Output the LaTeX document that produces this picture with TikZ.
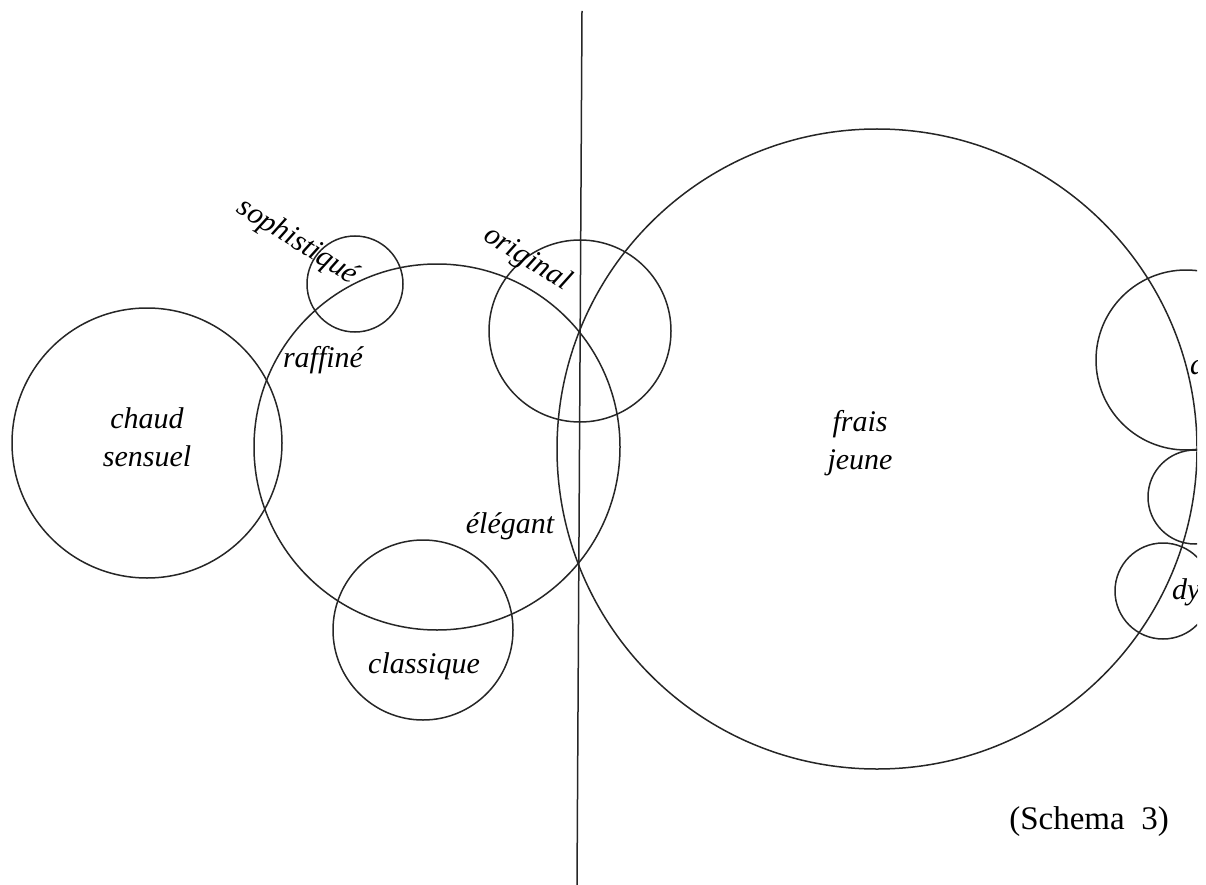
\documentclass[tikz,border=0pt]{standalone}
\usepackage{fontspec}
\setmainfont{Liberation Serif}
\begin{document}
\begin{tikzpicture}[x=1pt,y=-1pt,
  ring/.style={draw=black!85,line width=1.5pt},
  lbl/.style={font=\fontsize{30}{38}\selectfont\itshape,inner sep=0pt,align=center}]
\useasboundingbox (0,0) rectangle (1206,885);
\begin{scope}
\clip (0,0) rectangle (1197,885);
\draw[ring] (147,443) circle[radius=135];
\draw[ring] (437,447) circle[radius=183];
\draw[ring] (355,284) circle[radius=48];
\draw[ring] (580,331) circle[radius=91];
\draw[ring] (423,630) circle[radius=90];
\draw[ring] (877,449) circle[radius=320];
\draw[ring] (1186,360) circle[radius=90];
\draw[ring] (1195,497) circle[radius=47];
\draw[ring] (1163,591) circle[radius=48];
\coordinate (ltop) at (582,11);
\coordinate (lbot) at (577,885);
\draw[ring] (ltop) -- (lbot);
\node[lbl,rotate=-32] (soph) at (297,242) {sophistiqué};
\node[lbl,rotate=-32] (orig) at (527,259) {original};
\node[lbl] (raff) at (323,360) {raffiné};
\node[lbl] (chaud) at (147,437) {chaud\\sensuel};
\node[lbl] (frais) at (860,443) {frais\\jeune};
\node[lbl] (eleg) at (510,526) {élégant};
\node[lbl] (class) at (424,666) {classique};
\node[lbl,anchor=west] (dyn) at (1172,592) {dy};
\node[lbl,anchor=west] (dyn2) at (1190,364) {d};
\end{scope}
\node[font=\fontsize{33}{38}\selectfont,inner sep=0pt] (schema) at (1089,822) {(Schema\ \ 3)};
\end{tikzpicture}
\end{document}
